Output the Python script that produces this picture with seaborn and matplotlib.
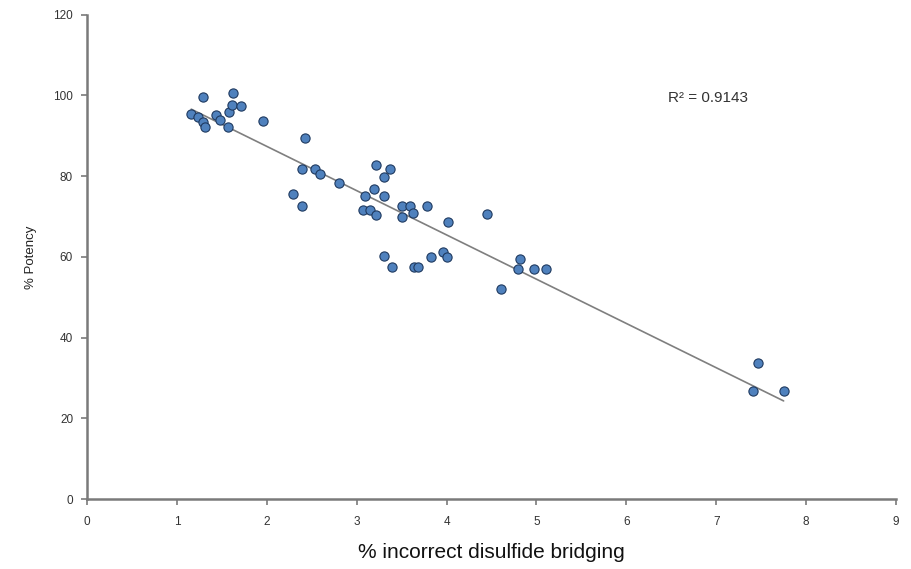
import numpy as np
import pandas as pd
import matplotlib.pyplot as plt
import seaborn as sns

# % incorrect disulfide bridging vs % potency
bridging = [1.16, 1.24, 1.29, 1.31, 1.29, 1.44, 1.48, 1.57, 1.58, 1.61, 1.62, 1.71,
            1.96, 2.42, 2.39, 2.54, 2.59, 2.80, 2.29, 2.39,
            3.22, 3.37, 3.30, 3.19, 3.09, 3.30, 3.07, 3.15, 3.22,
            3.50, 3.59, 3.78, 3.63, 3.50, 4.02, 4.45,
            3.30, 3.39, 3.64, 3.68, 3.83, 3.96, 4.00,
            4.82, 4.80, 4.97, 5.11, 4.61,
            7.47, 7.41, 7.75]
potency = [95.5, 94.7, 93.5, 92.2, 99.7, 95.1, 93.9, 92.2, 95.9, 97.6, 100.7, 97.3,
           93.6, 89.5, 81.8, 81.8, 80.6, 78.3, 75.6, 72.7,
           82.7, 81.8, 79.8, 76.9, 75.0, 75.0, 71.6, 71.5, 70.3,
           72.5, 72.5, 72.5, 70.8, 69.8, 68.6, 70.6,
           60.3, 57.6, 57.6, 57.6, 60.0, 61.3, 59.9,
           59.5, 57.0, 57.0, 57.0, 52.0,
           33.8, 26.7, 26.7]
r2_label = "R² = 0.9143"

df = pd.DataFrame({'bridging': bridging, 'potency': potency})

sns.set_style('white')
plt.rcParams['font.family'] = ['Liberation Sans', 'DejaVu Sans']

fig = plt.figure(figsize=(9.11, 5.69), dpi=100)
ax = fig.add_axes([0.0955, 0.123, 0.888, 0.851])

# linear trendline (excel style)
sns.regplot(data=df, x='bridging', y='potency', scatter=False, ci=None, ax=ax,
            line_kws={'color': '#7f7f7f', 'lw': 1.2, 'zorder': 2})
sns.scatterplot(data=df, x='bridging', y='potency', ax=ax, s=44,
                color='#4F81BD', edgecolor='#1F3A60', linewidth=0.8, zorder=3)

ax.set_xlim(0, 9)
ax.set_ylim(0, 120)
ax.set_xticks(range(0, 10))
ax.set_yticks(range(0, 121, 20))

for side in ['top', 'right']:
    ax.spines[side].set_visible(False)
for side in ['left', 'bottom']:
    ax.spines[side].set_color('#7a7a7a')
    ax.spines[side].set_linewidth(1.8)

ax.tick_params(axis='both', direction='out', length=4, width=1.2, color='#7a7a7a',
               labelsize=8.5, labelcolor='#333333', left=True, bottom=True)
ax.tick_params(axis='y', pad=6)
ax.tick_params(axis='x', pad=8)

ax.set_xlabel('% incorrect disulfide bridging', fontsize=15, color='#111111', labelpad=11)
ax.set_ylabel('% Potency', fontsize=9.5, color='#222222', labelpad=12)

ax.text(6.46, 99.3, r2_label, fontsize=11, color='#333333', va='center')

fig.savefig('out.png', dpi=100)
